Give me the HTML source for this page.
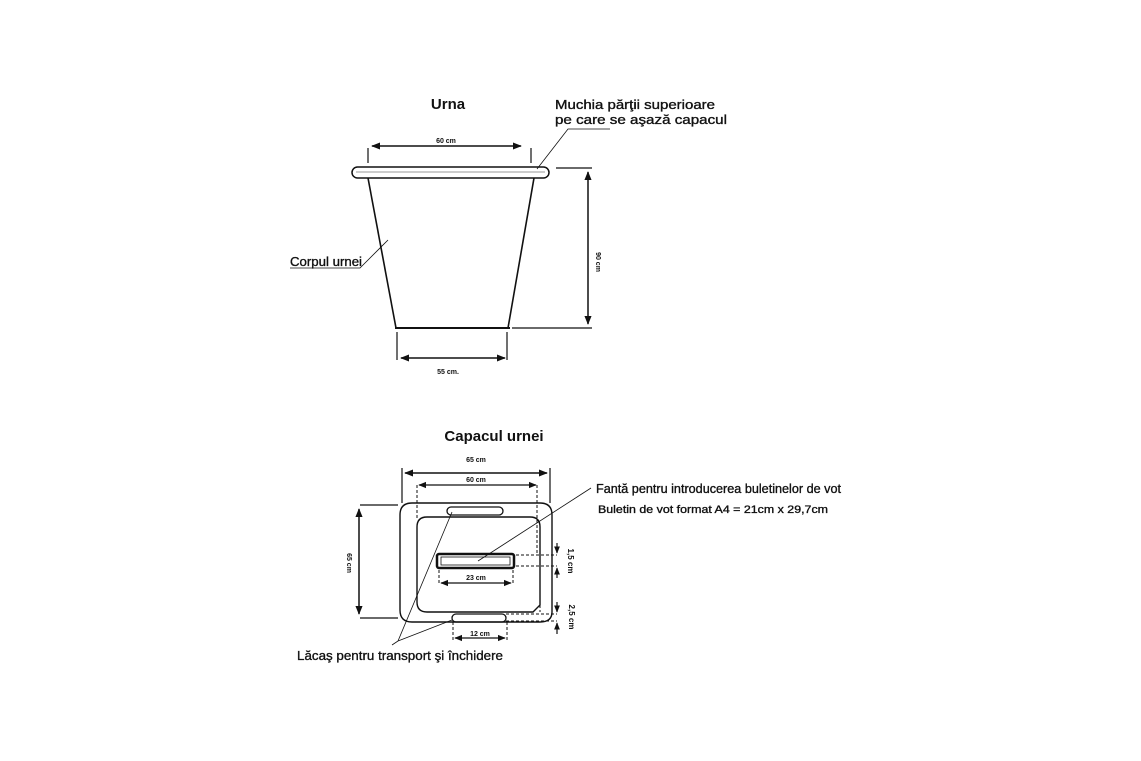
<!DOCTYPE html>
<html><head><meta charset="utf-8"><style>
html,body{margin:0;padding:0;background:#fff;}
svg{display:block;}
text{font-family:"Liberation Sans",sans-serif;fill:#111;}
.t{stroke:#111;stroke-width:0.35;}
</style></head><body>
<svg width="1141" height="761" viewBox="0 0 1141 761" xmlns="http://www.w3.org/2000/svg">
<defs>
<marker id="a" viewBox="0 0 10 10" refX="9" refY="5" markerWidth="6" markerHeight="6" orient="auto-start-reverse"><path d="M0,1 L10,5 L0,9 z" fill="#111"/></marker>
</defs>
<g stroke="#111" fill="none">
<rect x="352" y="167" width="197" height="11" rx="5.5" stroke-width="1.5"/>
<line x1="356" y1="172" x2="545" y2="172" stroke-width="0.8" stroke="#777"/>
<line x1="368" y1="178" x2="396" y2="328" stroke-width="1.6"/>
<line x1="534" y1="178" x2="508" y2="328" stroke-width="1.6"/>
<line x1="395" y1="328" x2="510" y2="328" stroke-width="2"/>
<line x1="368" y1="148" x2="368" y2="163" stroke-width="1.2"/>
<line x1="531" y1="148" x2="531" y2="163" stroke-width="1.2"/>
<line x1="372" y1="146" x2="521" y2="146" stroke-width="1.5" marker-start="url(#a)" marker-end="url(#a)"/>
<line x1="556" y1="168" x2="592" y2="168" stroke-width="1.2"/>
<line x1="512" y1="328" x2="592" y2="328" stroke-width="1.2"/>
<line x1="588" y1="172" x2="588" y2="324" stroke-width="1.5" marker-start="url(#a)" marker-end="url(#a)"/>
<line x1="397" y1="332" x2="397" y2="360" stroke-width="1.2"/>
<line x1="507" y1="332" x2="507" y2="360" stroke-width="1.2"/>
<line x1="401" y1="358" x2="505" y2="358" stroke-width="1.5" marker-start="url(#a)" marker-end="url(#a)"/>
<polyline points="537,169 568,129 610,129" stroke-width="0.8"/>
<polyline points="290,268 360,268 388,240" stroke-width="0.8"/>
<line x1="402" y1="468" x2="402" y2="503" stroke-width="1.2"/>
<line x1="550" y1="468" x2="550" y2="503" stroke-width="1.2"/>
<line x1="405" y1="473" x2="547" y2="473" stroke-width="1.5" marker-start="url(#a)" marker-end="url(#a)"/>
<line x1="419" y1="485" x2="536" y2="485" stroke-width="1.3" marker-start="url(#a)" marker-end="url(#a)"/>
<line x1="417" y1="485" x2="417" y2="518" stroke-width="1" stroke-dasharray="3,2"/>
<line x1="537" y1="485" x2="537" y2="555" stroke-width="1" stroke-dasharray="3,2"/>
<path d="M412,503 H540 Q552,503 552,515 V612 Q552,622 540,622 H412 Q400,622 400,610 V515 Q400,503 412,503 Z" stroke-width="1.4"/>
<path d="M427,517 H530 Q540,517 540,527 V605 L533,612 H427 Q417,612 417,602 V527 Q417,517 427,517 Z" stroke-width="1.4"/>
<rect x="447" y="507" width="56" height="8" rx="4" stroke-width="1.3"/>
<rect x="452" y="614" width="54" height="8" rx="4" stroke-width="1.3"/>
<rect x="437" y="554" width="77" height="14" rx="2" stroke-width="2.5"/>
<rect x="441" y="557" width="69" height="8" stroke-width="0.8"/>
<line x1="439" y1="570" x2="439" y2="585" stroke-width="1" stroke-dasharray="3,2"/>
<line x1="513" y1="570" x2="513" y2="585" stroke-width="1" stroke-dasharray="3,2"/>
<line x1="441" y1="583" x2="511" y2="583" stroke-width="1.3" marker-start="url(#a)" marker-end="url(#a)"/>
<line x1="360" y1="505" x2="398" y2="505" stroke-width="1.2"/>
<line x1="360" y1="618" x2="398" y2="618" stroke-width="1.2"/>
<line x1="359" y1="509" x2="359" y2="614" stroke-width="1.5" marker-start="url(#a)" marker-end="url(#a)"/>
<line x1="516" y1="555" x2="557" y2="555" stroke-width="1" stroke-dasharray="3,2"/>
<line x1="516" y1="566" x2="557" y2="566" stroke-width="1" stroke-dasharray="3,2"/>
<line x1="557" y1="543" x2="557" y2="553" stroke-width="1.2" marker-end="url(#a)"/>
<line x1="557" y1="578" x2="557" y2="568" stroke-width="1.2" marker-end="url(#a)"/>
<line x1="540" y1="555" x2="540" y2="612" stroke-width="1" stroke-dasharray="3,2"/>
<line x1="506" y1="614" x2="557" y2="614" stroke-width="1" stroke-dasharray="3,2"/>
<line x1="506" y1="621" x2="557" y2="621" stroke-width="1" stroke-dasharray="3,2"/>
<line x1="557" y1="602" x2="557" y2="612" stroke-width="1.2" marker-end="url(#a)"/>
<line x1="557" y1="634" x2="557" y2="623" stroke-width="1.2" marker-end="url(#a)"/>
<line x1="453" y1="622" x2="453" y2="640" stroke-width="1" stroke-dasharray="3,2"/>
<line x1="507" y1="622" x2="507" y2="640" stroke-width="1" stroke-dasharray="3,2"/>
<line x1="455" y1="638" x2="505" y2="638" stroke-width="1.3" marker-start="url(#a)" marker-end="url(#a)"/>
<line x1="591" y1="488" x2="478" y2="561" stroke-width="0.8"/>
<line x1="398" y1="641" x2="452" y2="512" stroke-width="0.8"/>
<line x1="398" y1="641" x2="452" y2="620" stroke-width="0.8"/>
<line x1="398" y1="641" x2="392" y2="645" stroke-width="0.8"/>
</g>
<g>
<text x="448" y="109" font-size="15" font-weight="bold" text-anchor="middle">Urna</text>
<text class="t" x="555" y="109" font-size="13" textLength="160" lengthAdjust="spacingAndGlyphs">Muchia părţii superioare</text>
<text class="t" x="555" y="124" font-size="13" textLength="172" lengthAdjust="spacingAndGlyphs">pe care se aşază capacul</text>
<text x="446" y="143" font-size="7" font-weight="bold" text-anchor="middle">60 cm</text>
<text class="t" x="290" y="266" font-size="13" textLength="72" lengthAdjust="spacingAndGlyphs">Corpul urnei</text>
<text x="0" y="0" font-size="7" font-weight="bold" text-anchor="middle" transform="translate(596,262) rotate(90)">90 cm</text>
<text x="448" y="374" font-size="7" font-weight="bold" text-anchor="middle">55  cm.</text>
<text x="494" y="441" font-size="15" font-weight="bold" text-anchor="middle">Capacul urnei</text>
<text x="476" y="462" font-size="7" font-weight="bold" text-anchor="middle">65 cm</text>
<text x="476" y="482" font-size="7" font-weight="bold" text-anchor="middle">60 cm</text>
<text x="476" y="580" font-size="7" font-weight="bold" text-anchor="middle">23 cm</text>
<text x="480" y="636" font-size="7" font-weight="bold" text-anchor="middle">12 cm</text>
<text x="0" y="0" font-size="7" font-weight="bold" text-anchor="middle" transform="translate(347,563) rotate(90)">65 cm</text>
<text x="0" y="0" font-size="8" font-weight="bold" text-anchor="middle" transform="translate(568,561) rotate(90)">1,5 cm</text>
<text x="0" y="0" font-size="8" font-weight="bold" text-anchor="middle" transform="translate(569,617) rotate(90)">2,5 cm</text>
<text class="t" x="596" y="493" font-size="13" textLength="245" lengthAdjust="spacingAndGlyphs">Fantă pentru introducerea buletinelor de vot</text>
<text class="t" x="598" y="513" font-size="11" textLength="230" lengthAdjust="spacingAndGlyphs">Buletin de vot format A4 = 21cm x 29,7cm</text>
<text class="t" x="297" y="660" font-size="13" textLength="206" lengthAdjust="spacingAndGlyphs">Lăcaş pentru transport şi închidere</text>
</g>
</svg>
</body></html>
